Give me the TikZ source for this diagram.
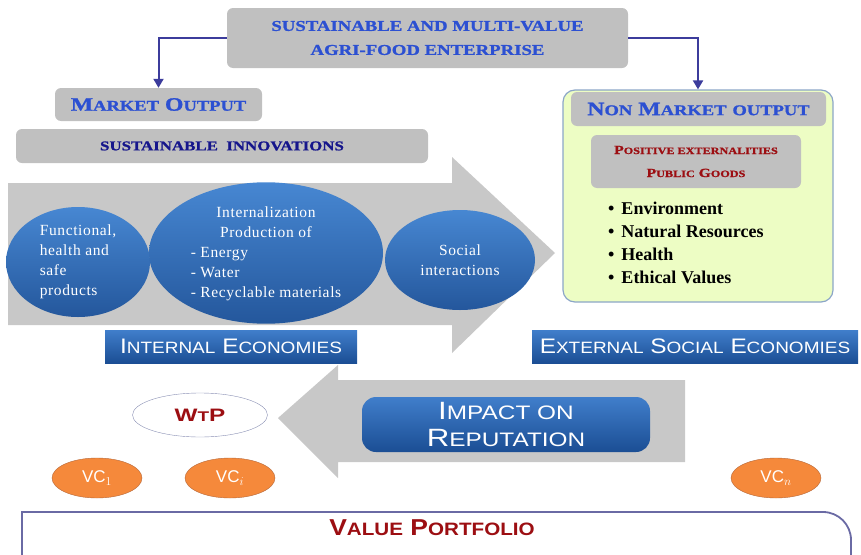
\documentclass[tikz,border=0pt]{standalone}
\usepackage{fontspec}
\usepackage{graphicx}
\setmainfont{Liberation Serif}
\newfontfamily\wideserif[FakeStretch=1.25,FakeBold=1.2]{Liberation Serif}
\newfontfamily\widesans[FakeStretch=1.35]{Liberation Sans}
\newfontfamily\barsans[FakeStretch=1.16]{Liberation Sans}
\newfontfamily\impactsans[FakeStretch=1.25]{Liberation Sans}
\newfontfamily\portsans[FakeStretch=1.15]{Liberation Sans}
\newfontfamily\plainsans{Liberation Sans}
\newfontfamily\ovalfont[LetterSpace=4]{Liberation Serif}
\usetikzlibrary{shapes.geometric,arrows.meta}

\definecolor{boxgrey}{HTML}{C0C0C0}
\definecolor{arrowgrey}{HTML}{C8C8C8}
\definecolor{headblue}{HTML}{2C50D2}
\definecolor{navyblue}{HTML}{16168C}
\definecolor{darkred}{HTML}{9C0E12}
\definecolor{linkblue}{HTML}{3C3C9C}
\definecolor{ovaltop}{HTML}{4787D2}
\definecolor{ovalbottom}{HTML}{24579C}
\definecolor{bartop}{HTML}{407ECB}
\definecolor{barbottom}{HTML}{1B4E94}
\definecolor{greenfill}{HTML}{EDFDC4}
\definecolor{greenedge}{HTML}{8CA6C8}
\definecolor{vcorange}{HTML}{F5893B}
\definecolor{vcedge}{HTML}{B5683A}
\definecolor{wtpedge}{HTML}{8A90B4}
\definecolor{portedge}{HTML}{6A6AA4}

\newcommand{\sml}[1]{\scalebox{0.78}{#1}}

\tikzset{
  greybox/.style={fill=boxgrey, rounded corners=6pt, inner sep=0pt},
  bluebar/.style={top color=bartop, bottom color=barbottom, text=white, inner sep=0pt,
    font=\barsans\fontsize{21}{24}\selectfont},
  blueoval/.style={ellipse, top color=ovaltop, bottom color=ovalbottom, text=white,
    inner sep=0pt, font=\ovalfont\fontsize{15.5}{20}\selectfont},
  vcoval/.style={ellipse, fill=vcorange, draw=vcedge, minimum width=90pt, minimum height=40pt,
    text=white, font=\plainsans\fontsize{17}{18}\selectfont},
  link/.style={draw=linkblue, line width=2pt, -{Triangle[width=10pt,length=9pt]}}
}

\begin{document}
\begin{tikzpicture}[x=1pt,y=-1pt]
\useasboundingbox (0,0) rectangle (861,554);

% big grey arrows
\fill[arrowgrey] (8,183) -- (452,183) -- (452,157) -- (555,253) -- (452,353) -- (452,325) -- (8,325) -- cycle;
\fill[arrowgrey] (685,380) -- (338,380) -- (338,365) -- (278,418) -- (338,478) -- (338,462) -- (685,462) -- cycle;

% top
\node[greybox, minimum width=401pt, minimum height=60pt, align=center, text=headblue,
  font=\wideserif\bfseries\fontsize{15}{24}\selectfont] (agri) at (427.5,38)
  {SUSTAINABLE AND MULTI-VALUE\\AGRI-FOOD ENTERPRISE};

\node[greybox, minimum width=207pt, minimum height=33pt, text=headblue,
  font=\wideserif\bfseries\fontsize{19}{22}\selectfont] (market) at (158.5,104.5)
  {M\sml{ARKET} O\sml{UTPUT}};
\node[greybox, minimum width=412pt, minimum height=34pt, text=navyblue,
  font=\wideserif\bfseries\fontsize{13.5}{14}\selectfont] (innov) at (222,146)
  {SUSTAINABLE\ \ INNOVATIONS};

% non market side
\node[draw=greenedge, line width=1.2pt, fill=greenfill, rounded corners=12pt,
  minimum width=270pt, minimum height=212pt] (nonmkt) at (698,196) {};
\node[greybox, minimum width=255pt, minimum height=34pt, text=headblue,
  font=\wideserif\bfseries\fontsize{19}{22}\selectfont] (nmhead) at (698.5,109)
  {N\sml{ON} M\sml{ARKET} \sml{OUTPUT}};
\node[greybox, minimum width=210pt, minimum height=53pt, text=darkred, align=center,
  font=\wideserif\bfseries\fontsize{12.5}{23}\selectfont] (extern) at (696,161.5)
  {P\sml{OSITIVE EXTERNALITIES}\\P\sml{UBLIC} G\sml{OODS}};
\node[anchor=north west, inner sep=0pt, align=left, font=\bfseries\fontsize{18}{23}\selectfont]
  (goods) at (608,202)
  {\textbullet\hspace{7pt}Environment\\\textbullet\hspace{7pt}Natural Resources\\
   \textbullet\hspace{7pt}Health\\\textbullet\hspace{7pt}Ethical Values};

\draw[link] (agri.west) -| (market.north);
\draw[link] (agri.east) -| (nonmkt.north);

% ovals
\node[blueoval, minimum width=144pt, minimum height=110pt, align=left] (food) at (78,262)
  {Functional,\\health and\\safe\\products};
\node[blueoval, minimum width=234pt, minimum height=130pt] (intern) at (266,253)
  {\begin{tabular}{@{}l@{}}\multicolumn{1}{@{}c@{}}{Internalization}\\
   \multicolumn{1}{@{}c@{}}{Production of}\\- Energy\\- Water\\- Recyclable materials\end{tabular}};
\node[blueoval, minimum width=150pt, minimum height=100pt, align=center] (social) at (460,260)
  {Social\\interactions};

\node[bluebar, minimum width=252pt, minimum height=33pt] (inteco) at (231,346.5)
  {I\sml{NTERNAL} E\sml{CONOMIES}};
\node[bluebar, minimum width=326pt, minimum height=33pt] (exteco) at (695,346.5)
  {E\sml{XTERNAL} S\sml{OCIAL} E\sml{CONOMIES}};

% lower part
\node[ellipse, draw=wtpedge, fill=white, minimum width=135pt, minimum height=44pt, text=darkred,
  font=\widesans\bfseries\fontsize{18}{20}\selectfont] (wtp) at (200,415) {W\sml{T}P};
\node[bluebar, rounded corners=14pt, minimum width=288pt, minimum height=55pt, align=center,
  font=\impactsans\fontsize{25}{27}\selectfont] (impact) at (506,424.5)
  {I\sml{MPACT ON}\\R\sml{EPUTATION}};

\node[vcoval] (vcone) at (97,478) {VC$_1$};
\node[vcoval] (vci) at (230,478) {VC$_i$};
\node[vcoval] (vcn) at (776,478) {VC$_n$};

\draw[draw=portedge, line width=1.8pt, fill=white] (22,562) -- (22,512) -- (823,512)
  arc[start angle=90, end angle=0, radius=28pt] -- (851,562);
\node[text=darkred, font=\portsans\bfseries\fontsize{23}{24}\selectfont] (portfolio) at (432,528)
  {V\sml{ALUE} P\sml{ORTFOLIO}};
\end{tikzpicture}
\end{document}
